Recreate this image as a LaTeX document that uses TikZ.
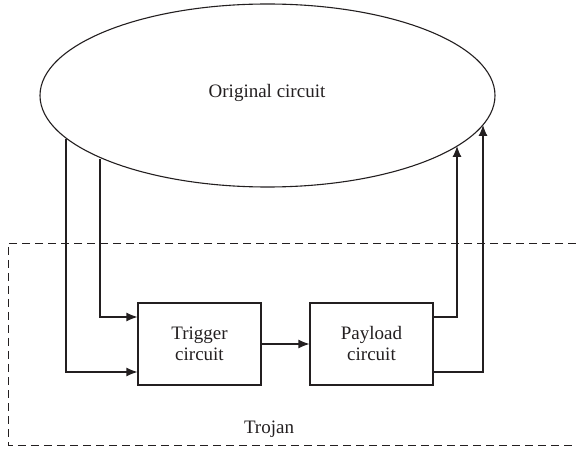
\documentclass[tikz,border=0pt]{standalone}
\usepackage{fontspec}
\setmainfont{Liberation Serif}
\usepackage{tikz}
\usetikzlibrary{shapes.geometric,arrows.meta}
\definecolor{ink}{HTML}{231F20}

\begin{document}
\begin{tikzpicture}[x=1pt, y=-1pt, line width=1.1pt, draw=ink, text=ink,
        block/.style={draw, minimum width=123pt, minimum height=82pt, align=center, inner sep=0pt},
        sig/.style={-{Latex[length=11pt,width=9pt]}},
        font=\fontsize{19}{21}\selectfont]
        \useasboundingbox (0,0) rectangle (576,449);

        % Original circuit
        \node[draw, ellipse, minimum width=455pt, minimum height=183pt, inner sep=0pt] (orig) at (267.5,95.5) {};
        \node at (267,93) (origlabel) {Original circuit};

        % Trojan boundary
        \draw[dashed, dash pattern=on 8pt off 5pt, line width=0.9pt] (576,243) -- (8,243) -- (8,445) -- (576,445);
        \node at (269,429) (trojan) {Trojan};

        % Trojan blocks
        \node[block] (trig) at (199.5,344) {Trigger\\circuit};
        \node[block] (pay) at (371.5,344) {Payload\\circuit};

        % points on the ellipse
        \coordinate (in1) at (66,139);
        \coordinate (in2) at (100,159);
        \coordinate (out1) at (457,146);
        \coordinate (out2) at (483,125);

        \draw[sig] (in2) |- ([yshift=27pt]trig.west);
        \draw[sig] (in1) |- ([yshift=-28pt]trig.west);
        \draw[sig] (trig) -- (pay);
        \draw[sig] ([yshift=27pt]pay.east) -| (out1);
        \draw[sig] ([yshift=-28pt]pay.east) -| (out2);
    \end{tikzpicture}
\end{document}
